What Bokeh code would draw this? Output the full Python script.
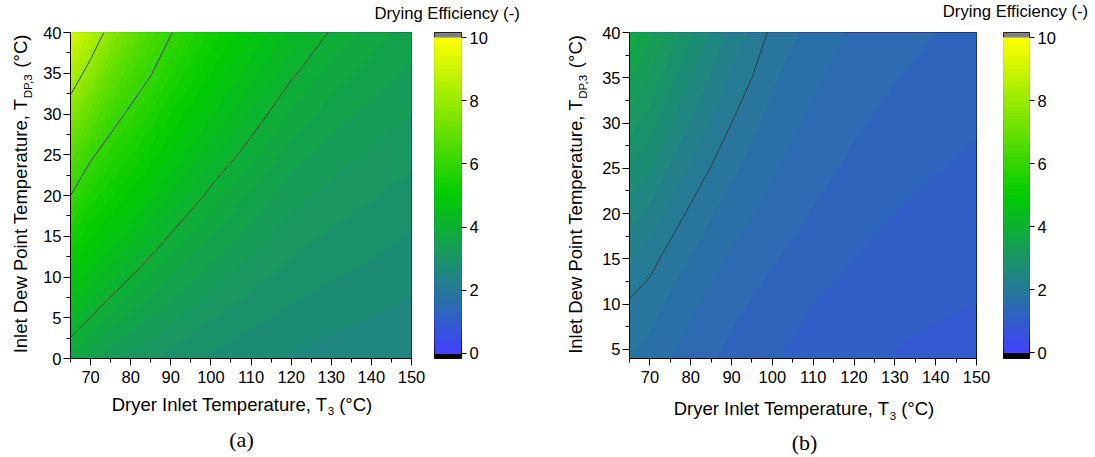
import numpy as np
from bokeh.plotting import figure
from bokeh.layouts import column, row
from bokeh.models import Range1d, FixedTicker, Label
from bokeh.embed import file_html
from bokeh.resources import INLINE

# ---------------- data ----------------
# dryer inlet temperature T3 (°C), shared by both maps
t3 = [65, 70, 75, 80, 85, 90, 100, 110, 120, 130, 140, 150]

# (a) inlet dew point T_DP,3 (°C) and drying efficiency (-), rows follow tdp_a
tdp_a = [0, 5, 10, 15, 20, 25, 30, 35, 40]
eff_a = [
    [3.70, 3.48, 3.28, 3.12, 3.02, 2.93, 2.77, 2.65, 2.58, 2.51, 2.46, 2.40],
    [4.28, 3.99, 3.74, 3.55, 3.39, 3.25, 3.02, 2.86, 2.75, 2.66, 2.60, 2.53],
    [4.85, 4.51, 4.24, 4.00, 3.78, 3.60, 3.30, 3.08, 2.92, 2.82, 2.74, 2.66],
    [5.42, 5.02, 4.73, 4.48, 4.21, 3.97, 3.60, 3.31, 3.09, 2.97, 2.88, 2.79],
    [6.00, 5.54, 5.22, 4.95, 4.66, 4.38, 3.92, 3.57, 3.28, 3.13, 3.02, 2.92],
    [6.75, 6.09, 5.71, 5.42, 5.11, 4.79, 4.26, 3.87, 3.50, 3.30, 3.17, 3.06],
    [7.60, 6.90, 6.27, 5.88, 5.57, 5.20, 4.63, 4.17, 3.76, 3.50, 3.33, 3.20],
    [8.45, 7.72, 6.98, 6.42, 6.03, 5.61, 4.99, 4.49, 4.05, 3.72, 3.52, 3.35],
    [9.30, 8.54, 7.72, 7.05, 6.50, 6.03, 5.35, 4.80, 4.35, 3.97, 3.72, 3.50],
]

# (b) inlet dew point T_DP,3 (°C) and drying efficiency (-)
tdp_b = [4, 10, 15, 20, 25, 30, 35, 40]
eff_b = [
    [1.82, 1.72, 1.60, 1.50, 1.42, 1.35, 1.22, 1.11, 1.04, 0.99, 0.96, 0.94],
    [1.97, 1.88, 1.76, 1.64, 1.54, 1.45, 1.32, 1.20, 1.12, 1.06, 1.02, 1.00],
    [2.22, 2.08, 1.91, 1.79, 1.67, 1.57, 1.42, 1.30, 1.20, 1.13, 1.08, 1.05],
    [2.50, 2.35, 2.13, 1.95, 1.82, 1.70, 1.52, 1.39, 1.28, 1.20, 1.14, 1.10],
    [2.78, 2.63, 2.38, 2.17, 1.99, 1.84, 1.62, 1.47, 1.36, 1.27, 1.21, 1.16],
    [3.10, 2.90, 2.63, 2.39, 2.18, 2.00, 1.72, 1.55, 1.43, 1.34, 1.28, 1.22],
    [3.43, 3.18, 2.87, 2.60, 2.38, 2.17, 1.83, 1.63, 1.50, 1.41, 1.34, 1.28],
    [3.80, 3.45, 3.12, 2.85, 2.58, 2.35, 1.95, 1.72, 1.57, 1.47, 1.40, 1.35],
]

x_major = [70, 80, 90, 100, 110, 120, 130, 140, 150]
x_minor = [65, 75, 85, 95, 105, 115, 125, 135, 145]
ya_major = [0, 5, 10, 15, 20, 25, 30, 35, 40]
yb_major = [5, 10, 15, 20, 25, 30, 35, 40]
cbar_ticks = [0, 2, 4, 6, 8, 10]
line_levels = [2, 4, 6, 8]
fill_levels = [round(0.2 * i, 1) for i in range(51)]

# ---------------- styling ----------------
SANS = "Liberation Sans"
SERIF = "Liberation Serif"
TICK_PX = 16.5
LABEL_PX = 18.5
SUB_PX = 11.5
SUB_DROP = 7
TITLE_PX = 16.7
LINE_COL = "#3a3a3a"


def palette_color(v):
    """blue (0) -> green (5) -> yellow (10)"""
    stops = [0.0, 5.0, 10.0]
    r = np.interp(v, stops, [64, 0, 255])
    g = np.interp(v, stops, [64, 204, 255])
    b = np.interp(v, stops, [255, 0, 0])
    return "#%02x%02x%02x" % (int(round(r)), int(round(g)), int(round(b)))


fill_colors = [palette_color((a + b) / 2) for a, b in zip(fill_levels[:-1], fill_levels[1:])]

# Arial / Liberation Sans advance widths (per 1000 em)
ADV = {" ": 278, "(": 333, ")": 333, ",": 278, "-": 333, "°": 400, "3": 556,
       "C": 722, "D": 722, "E": 667, "I": 278, "P": 667, "T": 611,
       "a": 556, "c": 500, "e": 556, "f": 278, "g": 556, "i": 222, "l": 222,
       "m": 833, "n": 556, "o": 556, "p": 556, "r": 333, "t": 278, "u": 556,
       "w": 722, "y": 500}


def width(s, px):
    return sum(ADV[c] for c in s) * px / 1000.0


def text_canvas(w, h):
    """an empty figure whose whole canvas is available for text labels"""
    f = figure(width=w, height=h, x_range=Range1d(0, 1), y_range=Range1d(0, 1),
               output_backend="svg", toolbar_location=None,
               x_axis_location=None, y_axis_location=None, min_border=0)
    f.grid.visible = False
    f.outline_line_color = None
    return f


def put(f, x, y, text, px, font=SANS, align="left", angle=0.0):
    f.add_layout(Label(x=x, y=y, text=text, x_units="canvas", y_units="canvas",
                       angle=angle, text_align=align, text_baseline="middle",
                       text_font=font, text_font_size=f"{px}px", text_color="black"))


def sub_label(f, main, sub, tail, x, y, vertical=False):
    """'main' + subscript 'sub' + ' tail', centred on (x, y) along the reading direction.
    The main run ends exactly where the subscript starts."""
    total = (width(main, LABEL_PX) + width(sub, SUB_PX) + width(" " + tail, LABEL_PX))
    if vertical:
        joint = y + total / 2 - width(main, LABEL_PX)
        put(f, x, joint, main, LABEL_PX, align="right", angle=np.pi / 2)
        put(f, x + SUB_DROP, joint, sub, SUB_PX, angle=np.pi / 2)
        put(f, x, joint - width(sub, SUB_PX) - width(" ", LABEL_PX), tail, LABEL_PX,
            angle=np.pi / 2)
    else:
        joint = x - total / 2 + width(main, LABEL_PX)
        put(f, joint, y, main, LABEL_PX, align="right")
        put(f, joint, y + SUB_DROP, sub, SUB_PX)
        put(f, joint + width(sub, SUB_PX) + width(" ", LABEL_PX), y, tail, LABEL_PX)


def style_axis(ax, major, minor):
    ax.ticker = FixedTicker(ticks=major, minor_ticks=minor)
    ax.axis_line_color = "black"
    ax.major_tick_line_color = "black"
    ax.minor_tick_line_color = "black"
    ax.major_tick_in = 0
    ax.major_tick_out = 7
    ax.minor_tick_in = 0
    ax.minor_tick_out = 4
    ax.major_label_text_font = SANS
    ax.major_label_text_font_size = f"{TICK_PX}px"
    ax.major_label_text_color = "black"


def contour_panel(z_rows, tdp, y_lo, y_major, borders, size):
    left, right, top, bottom = borders
    w, h = size
    p = figure(width=w, height=h, x_range=Range1d(65, 150), y_range=Range1d(y_lo, 40),
               output_backend="svg", toolbar_location=None,
               min_border_left=left, min_border_right=right,
               min_border_top=top, min_border_bottom=bottom)
    z = np.array(z_rows)
    # stacked fills: each colour covers everything at or above its lower level,
    # so adjacent bands overlap instead of leaving hairline gaps
    first = True
    for lo, hi, colour in zip(fill_levels[:-1], fill_levels[1:], fill_colors):
        if hi <= z.min():
            continue
        if lo >= z.max():
            break
        floor = -100.0 if first else lo
        first = False
        p.contour(x=t3, y=tdp, z=z, levels=[floor, 100.0], fill_color=[colour],
                  line_color=None)
    p.contour(x=t3, y=tdp, z=z, levels=line_levels, fill_color=None,
              line_color=LINE_COL, line_width=1)
    p.grid.visible = False
    p.outline_line_color = "black"
    p.outline_line_width = 1
    style_axis(p.xaxis[0], x_major, x_minor)
    style_axis(p.yaxis[0], y_major, [v + 2.5 for v in y_major if v + 2.5 < 40])
    p.xaxis.major_label_standoff = 5
    p.yaxis.major_label_standoff = 2
    return p


def colorbar_fig(borders, size, lo, hi):
    left, right, top, bottom = borders
    w, h = size
    c = figure(width=w, height=h, x_range=Range1d(0, 1), y_range=Range1d(lo, hi),
               output_backend="svg", toolbar_location=None,
               x_axis_location=None, y_axis_location="right",
               min_border_left=left, min_border_right=right,
               min_border_top=top, min_border_bottom=bottom)
    # each step runs up to the top of the scale; later steps paint over earlier ones
    c.quad(left=0, right=1, bottom=fill_levels[:-1], top=fill_levels[-1],
           fill_color=fill_colors, line_color=None)
    c.quad(left=[0], right=[1], bottom=[10], top=[hi], fill_color="#808080", line_color=None)
    c.quad(left=[0], right=[1], bottom=[lo], top=[0], fill_color="black", line_color=None)
    c.grid.visible = False
    c.outline_line_color = "black"
    style_axis(c.yaxis[0], cbar_ticks, [])
    c.yaxis.major_tick_out = 5
    c.yaxis.major_label_standoff = 3
    c.yaxis.axis_line_color = None
    return c


# page rows: titles strip / plots / axis-title strip
TOP_H = 24
MID_H = 367
BOT_H = 457 - TOP_H - MID_H
Y0 = TOP_H + MID_H

# colour-bar titles
top = text_canvas(1095, TOP_H)
put(top, 374, 13.3, "Drying Efficiency (-)", TITLE_PX)
put(top, 942.3, 10.8, "Drying Efficiency (-)", TITLE_PX)

Y_MAIN, Y_SUB, UNIT = "Inlet Dew Point Temperature, T", "DP,3", "(°C)"
X_MAIN, X_SUB = "Dryer Inlet Temperature, T", "3"

# vertical axis titles
ylab_a = text_canvas(40, MID_H)
sub_label(ylab_a, Y_MAIN, Y_SUB, UNIT, 20, 194.5 - TOP_H, vertical=True)
ylab_b = text_canvas(35, MID_H)
sub_label(ylab_b, Y_MAIN, Y_SUB, UNIT, 20, 195 - TOP_H, vertical=True)

# the two maps and their colour bars
pa = contour_panel(eff_a, tdp_a, 0, ya_major, (30, 14, 31 - TOP_H, MID_H - (358 - TOP_H)),
                   (385, MID_H))
ca = colorbar_fig((9, 94, 32 - TOP_H, MID_H - (358 - TOP_H)), (130, MID_H), -0.16, 10.16)
pb = contour_panel(eff_b, tdp_b, 4, yb_major, (39, 14, 29 - TOP_H, MID_H - (361 - TOP_H)),
                   (400, MID_H))
cb = colorbar_fig((13, 66, 30 - TOP_H, MID_H - (362 - TOP_H)), (105, MID_H), -0.18, 10.16)

# horizontal axis titles and panel tags
bot = text_canvas(1095, BOT_H)
sub_label(bot, X_MAIN, X_SUB, UNIT, 240.5, 403.5 - Y0)
sub_label(bot, X_MAIN, X_SUB, UNIT, 802.5, 408 - Y0)
put(bot, 241, 438.5 - Y0, "(a)", 22, font=SERIF, align="center")
put(bot, 804, 441.5 - Y0, "(b)", 22, font=SERIF, align="center")

layout = column(top, row(ylab_a, pa, ca, ylab_b, pb, cb, spacing=0), bot, spacing=0)

open("out.html", "w").write(file_html(layout, INLINE))
